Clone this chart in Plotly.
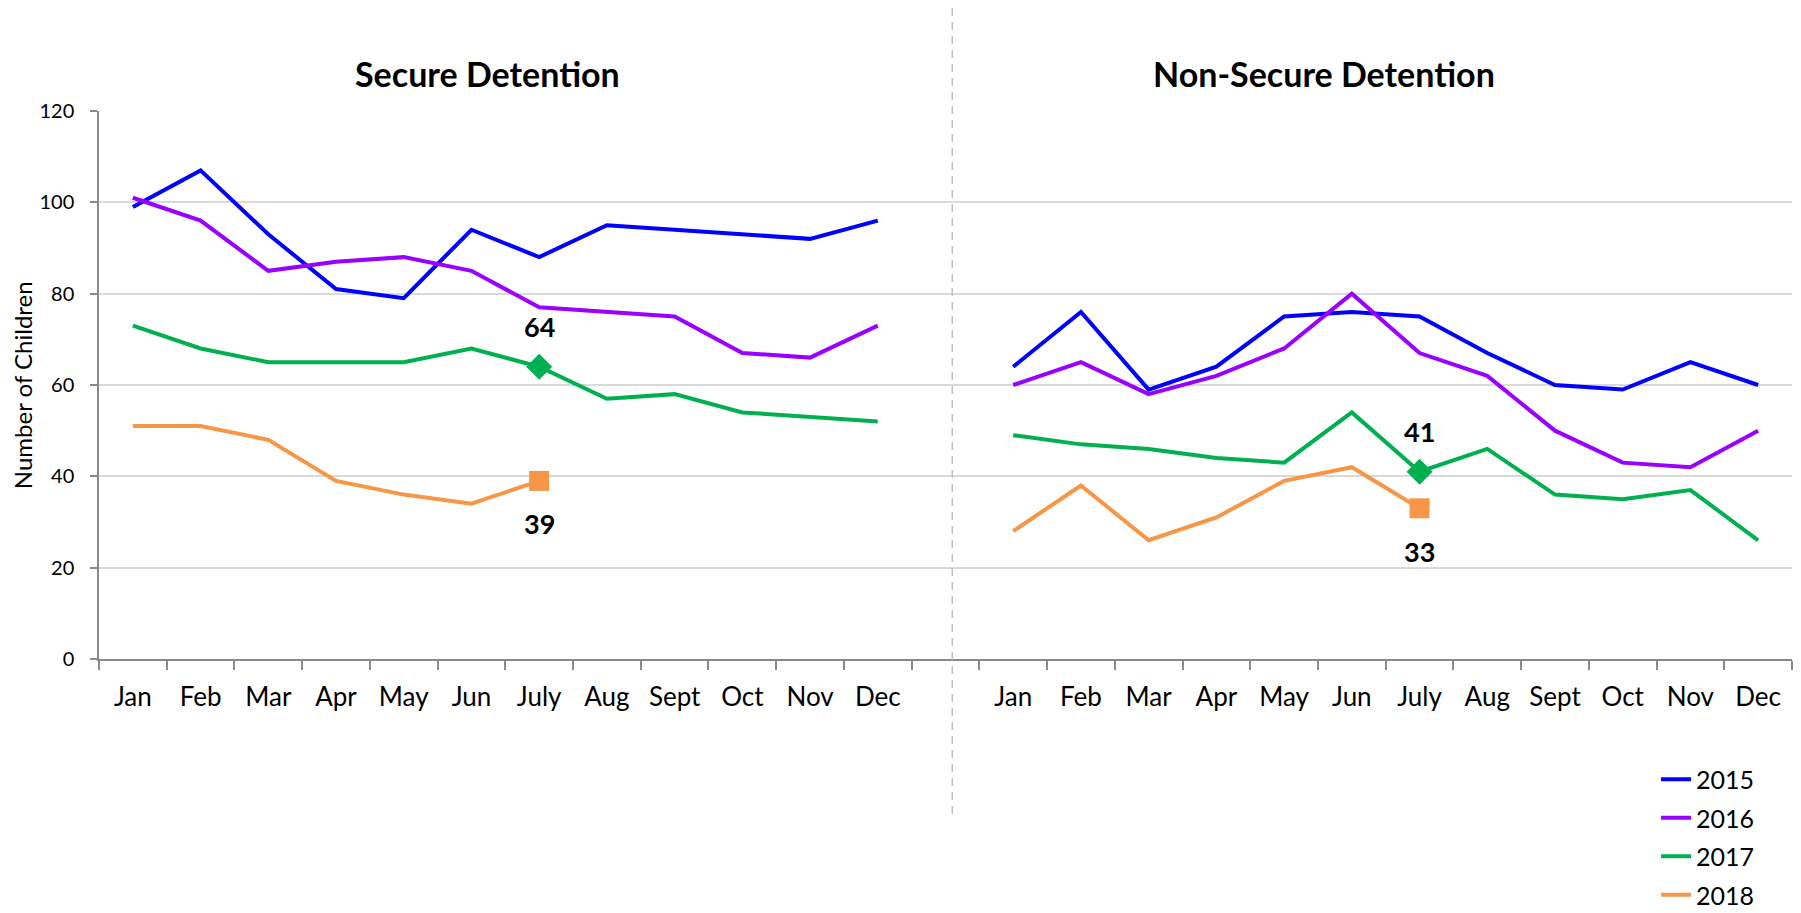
import plotly.graph_objects as go

months = ["Jan", "Feb", "Mar", "Apr", "May", "Jun", "July", "Aug", "Sept", "Oct", "Nov", "Dec"]
years = ["2015", "2016", "2017", "2018"]
colors = ["#0000FF", "#9900FF", "#00B050", "#F79646"]

secure_2015 = [99, 107, 93, 81, 79, 94, 88, 95, 94, 93, 92, 96]
secure_2016 = [101, 96, 85, 87, 88, 85, 77, 76, 75, 67, 66, 73]
secure_2017 = [73, 68, 65, 65, 65, 68, 64, 57, 58, 54, 53, 52]
secure_2018 = [51, 51, 48, 39, 36, 34, 39]

nonsecure_2015 = [64, 76, 59, 64, 75, 76, 75, 67, 60, 59, 65, 60]
nonsecure_2016 = [60, 65, 58, 62, 68, 80, 67, 62, 50, 43, 42, 50]
nonsecure_2017 = [49, 47, 46, 44, 43, 54, 41, 46, 36, 35, 37, 26]
nonsecure_2018 = [28, 38, 26, 31, 39, 42, 33]

panel_titles = ["Secure Detention", "Non-Secure Detention"]
y_title = "Number of Children"
highlight_month = "July"

FONT = "Lato, 'Open Sans', sans-serif"

panels = [
    [secure_2015, secure_2016, secure_2017, secure_2018],
    [nonsecure_2015, nonsecure_2016, nonsecure_2017, nonsecure_2018],
]
offsets = [0, len(months) + 1]  # blank category between panels

fig = go.Figure()
for p, series in enumerate(panels):
    for k, vals in enumerate(series):
        xs = [offsets[p] + i for i in range(len(vals))]
        fig.add_trace(go.Scatter(
            x=xs, y=vals, mode="lines",
            line=dict(color=colors[k], width=4),
            name=years[k], legendgroup=years[k],
            showlegend=(p == 0),
        ))

# highlighted July markers and labels
hi = months.index(highlight_month)
marker_specs = [(2, "diamond", 20, 40), (3, "square", 20, -43)]
for p, series in enumerate(panels):
    for k, sym, size, shift in marker_specs:
        v = series[k][hi]
        fig.add_trace(go.Scatter(
            x=[offsets[p] + hi], y=[v], mode="markers",
            marker=dict(symbol=sym, size=size, color=colors[k]),
            showlegend=False, hoverinfo="skip",
        ))
        fig.add_annotation(
            x=offsets[p] + hi, y=v, text=f"<b>{v}</b>", showarrow=False,
            yshift=shift, font=dict(family=FONT, size=27, color="black"),
        )

tickvals = [offsets[p] + i for p in range(2) for i in range(len(months))]
ticktext = months * 2

fig.update_xaxes(
    range=[-0.5, 2 * len(months) + 0.5],
    tickmode="array", tickvals=tickvals, ticktext=ticktext,
    ticks="", ticklabelstandoff=14,
    tickfont=dict(family=FONT, size=26, color="black"),
    showgrid=False, zeroline=False, automargin=False,
    showline=True, linecolor="#898989", linewidth=1.5,
    minor=dict(tickmode="array",
               tickvals=[i - 0.5 for i in range(2 * len(months) + 2)],
               ticks="outside", ticklen=9, tickcolor="#898989", tickwidth=1.5,
               showgrid=False),
    fixedrange=True,
)
fig.update_yaxes(
    range=[0, 120], tickmode="array", tickvals=[0, 20, 40, 60, 80, 100, 120],
    ticks="outside", ticklen=7, tickcolor="#898989", tickwidth=1.5,
    ticklabelstandoff=12, automargin=False,
    tickfont=dict(family=FONT, size=20, color="black"),
    showgrid=True, gridcolor="#D9D9D9", gridwidth=1.5,
    zeroline=False, showline=True, linecolor="#898989", linewidth=1.5,
    fixedrange=True,
)

# panel titles
for p, (xc) in enumerate([0.2292, 0.7236]):
    fig.add_annotation(
        xref="paper", yref="paper", x=xc, y=1.0693, text=f"<b>{panel_titles[p]}</b>",
        showarrow=False, xanchor="center", yanchor="middle",
        font=dict(family=FONT, size=34, color="black"),
    )

# y axis title
fig.add_annotation(
    xref="paper", yref="paper", x=-0.0455, y=0.4997, text=y_title, textangle=-90,
    showarrow=False, xanchor="center", yanchor="middle",
    font=dict(family=FONT, size=24, color="black"),
)

# dashed divider between panels
fig.add_shape(
    type="line", xref="x", yref="paper", x0=12.1, x1=12.1, y0=-0.283, y1=1.2026,
    line=dict(color="#BFBFBF", width=1.5, dash="8px,6px"),
)

# the page body has an 8px default margin, so the figure is 8px smaller
fig.update_layout(
    width=1793, height=905,
    margin=dict(l=91, r=9, t=103, b=254, autoexpand=False),
    paper_bgcolor="white", plot_bgcolor="white",
    font=dict(family=FONT, color="black"),
    legend=dict(
        x=0.9197, y=-0.178, xanchor="left", yanchor="top",
        font=dict(family=FONT, size=25, color="black"),
        tracegroupgap=3, bgcolor="rgba(0,0,0,0)",
    ),
    showlegend=True,
)

fig.write_html("out.html")
